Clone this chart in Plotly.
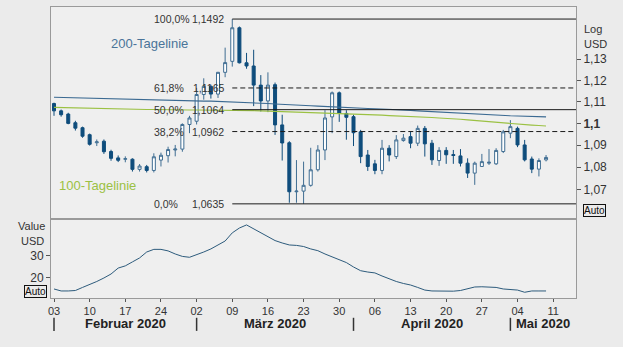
import numpy as np
import pandas as pd
import plotly.graph_objects as go

# ---------------- data ----------------
dates = pd.bdate_range("2020-02-03", "2020-05-08")

opens = [1.1092, 1.1058, 1.1043, 1.1003, 1.0980, 1.0948, 1.0911, 1.0918, 1.0871, 1.0842,
         1.0836, 1.0836, 1.0790, 1.0802, 1.0785, 1.0832, 1.0852, 1.0878, 1.0882, 1.0995,
         1.1010, 1.1134, 1.1172, 1.1136, 1.1238, 1.1290, 1.1450, 1.1283, 1.1268, 1.1178,
         1.1104, 1.1180, 1.0993, 1.0911, 1.0689, 1.0692, 1.0718, 1.0788, 1.0878, 1.1030,
         1.1142, 1.1046, 1.1031, 1.0961, 1.0855, 1.0815, 1.0785, 1.0886, 1.0848, 1.0921,
         1.0939, 1.0909, 1.0977, 1.0909, 1.0830, 1.0876, 1.0857, 1.0851, 1.0818, 1.0773,
         1.0803, 1.0818, 1.0815, 1.0871, 1.0955, 1.0977, 1.0901, 1.0837, 1.0791, 1.0833]
highs = [1.1096, 1.1064, 1.1049, 1.1012, 1.0985, 1.0953, 1.0926, 1.0926, 1.0879, 1.0853,
         1.0849, 1.0840, 1.0814, 1.0810, 1.0863, 1.0866, 1.0893, 1.0901, 1.1000, 1.1035,
         1.1165, 1.1210, 1.1180, 1.1240, 1.1355, 1.1492, 1.1456, 1.1330, 1.1345, 1.1225,
         1.1238, 1.1190, 1.1040, 1.0918, 1.0832, 1.0825, 1.0888, 1.0900, 1.1061, 1.1148,
         1.1148, 1.1061, 1.1040, 1.0970, 1.0878, 1.0833, 1.0924, 1.0900, 1.0946, 1.0951,
         1.0961, 1.0990, 1.0988, 1.0924, 1.0891, 1.0891, 1.0878, 1.0882, 1.0840, 1.0825,
         1.0860, 1.0882, 1.0886, 1.0970, 1.1015, 1.0985, 1.0924, 1.0848, 1.0840, 1.0855]
lows = [1.1035, 1.1031, 1.0996, 1.0967, 1.0934, 1.0898, 1.0896, 1.0860, 1.0829, 1.0823,
        1.0822, 1.0780, 1.0780, 1.0776, 1.0776, 1.0803, 1.0821, 1.0849, 1.0870, 1.0955,
        1.0995, 1.1110, 1.1115, 1.1118, 1.1215, 1.1265, 1.1280, 1.1255, 1.1080, 1.1055,
        1.1052, 1.0947, 1.0830, 1.0640, 1.0640, 1.0635, 1.0712, 1.0780, 1.0832, 1.0955,
        1.1007, 1.0925, 1.0896, 1.0818, 1.0783, 1.0768, 1.0768, 1.0826, 1.0837, 1.0916,
        1.0886, 1.0896, 1.0848, 1.0810, 1.0806, 1.0815, 1.0815, 1.0803, 1.0751, 1.0720,
        1.0803, 1.0810, 1.0810, 1.0864, 1.0932, 1.0891, 1.0826, 1.0773, 1.0758, 1.0826]
closes = [1.1058, 1.1040, 1.1000, 1.0978, 1.0941, 1.0904, 1.0915, 1.0870, 1.0840, 1.0831,
          1.0838, 1.0790, 1.0805, 1.0785, 1.0847, 1.0854, 1.0880, 1.0882, 1.0995, 1.1025,
          1.1134, 1.1172, 1.1136, 1.1238, 1.1284, 1.1450, 1.1283, 1.1268, 1.1178, 1.1104,
          1.1178, 1.0993, 1.0910, 1.0689, 1.0692, 1.0718, 1.0788, 1.0878, 1.1025, 1.1142,
          1.1048, 1.1028, 1.0957, 1.0848, 1.0803, 1.0785, 1.0886, 1.0855, 1.0924, 1.0932,
          1.0909, 1.0977, 1.0906, 1.0833, 1.0876, 1.0856, 1.0853, 1.0818, 1.0773, 1.0818,
          1.0825, 1.0822, 1.0876, 1.0961, 1.0985, 1.0901, 1.0833, 1.0791, 1.0830, 1.0844]

ma200 = [1.1121, 1.1120, 1.1120, 1.1119, 1.1118, 1.1117, 1.1116, 1.1116, 1.1115, 1.1114,
         1.1113, 1.1112, 1.1111, 1.1110, 1.1110, 1.1109, 1.1108, 1.1107, 1.1106, 1.1105,
         1.1104, 1.1103, 1.1103, 1.1102, 1.1101, 1.1100, 1.1099, 1.1098, 1.1096, 1.1094,
         1.1092, 1.1090, 1.1089, 1.1088, 1.1086, 1.1084, 1.1082, 1.1080, 1.1078, 1.1076,
         1.1074, 1.1072, 1.1071, 1.1070, 1.1069, 1.1068, 1.1067, 1.1065, 1.1063, 1.1062,
         1.1060, 1.1058, 1.1056, 1.1055, 1.1053, 1.1051, 1.1049, 1.1047, 1.1045, 1.1043,
         1.1041, 1.1040, 1.1038, 1.1036, 1.1035, 1.1034, 1.1033, 1.1032, 1.1031, 1.1030]
ma100 = [1.1074, 1.1073, 1.1072, 1.1071, 1.1071, 1.1070, 1.1069, 1.1068, 1.1068, 1.1067,
         1.1066, 1.1066, 1.1065, 1.1064, 1.1064, 1.1063, 1.1063, 1.1063, 1.1062, 1.1062,
         1.1062, 1.1062, 1.1061, 1.1061, 1.1061, 1.1060, 1.1060, 1.1060, 1.1059, 1.1058,
         1.1057, 1.1056, 1.1055, 1.1054, 1.1053, 1.1052, 1.1051, 1.1050, 1.1049, 1.1048,
         1.1047, 1.1046, 1.1045, 1.1043, 1.1041, 1.1039, 1.1038, 1.1036, 1.1035, 1.1034,
         1.1032, 1.1030, 1.1029, 1.1027, 1.1025, 1.1024, 1.1022, 1.1019, 1.1016, 1.1013,
         1.1011, 1.1008, 1.1005, 1.1004, 1.1000, 1.0997, 1.0994, 1.0992, 1.0990, 1.0988]

indicator = [15.0, 14.1, 14.1, 14.3, 15.7, 17.0, 18.4, 20.0, 21.8, 24.5,
             25.5, 27.3, 29.1, 31.8, 33.0, 33.0, 32.3, 30.9, 29.8, 29.4,
             30.5, 31.8, 33.2, 35.0, 36.8, 40.5, 42.7, 44.1, 42.3, 40.7,
             38.6, 37.0, 35.9, 35.0, 34.8, 34.3, 33.2, 32.4, 30.9, 29.7,
             28.4, 27.0, 25.0, 23.3, 22.7, 22.3, 20.9, 19.5, 18.4, 17.5,
             16.8, 15.7, 14.5, 14.1, 14.0, 14.0, 14.0, 14.3, 15.2, 15.9,
             16.0, 15.9, 15.7, 15.0, 14.7, 14.5, 13.5, 14.1, 14.1, 14.1]

price_ticks = [1.07, 1.08, 1.09, 1.10, 1.11, 1.12, 1.13]
price_ticktext = ["1,07", "1,08", "1,09", "<b>1,1</b>", "1,11", "1,12", "1,13"]
ind_ticks = [20, 30]
fib_ratios = [1.0, 0.618, 0.5, 0.382, 0.0]
fib_names = ["100,0%", "61,8%", "50,0%", "38,2%", "0,0%"]
fib_dash = ["solid", "dash", "solid", "dash", "solid"]
month_names = {2: "Februar", 3: "März", 4: "April", 5: "Mai"}

# ---------------- styling ----------------
DEC = "#0f4d7c"
INC = "#3f6d92"
MA200C = "#3b6a92"
MA100C = "#9bc143"
GRID = "#9a9a9a"
TXT = "#333333"
FONT = "Arial, Liberation Sans, sans-serif"

idx = list(range(len(dates)))
XMIN, XMAX = -0.42, 73.2
LOGMIN, LOGMAX = 0.02398, 0.06259
SPLIT = 0.2715

fig = go.Figure()

fig.add_trace(go.Candlestick(
    x=idx, open=opens, high=highs, low=lows, close=closes,
    increasing=dict(line=dict(color=INC, width=1), fillcolor="#ffffff"),
    decreasing=dict(line=dict(color=DEC, width=1), fillcolor=DEC),
    whiskerwidth=0, xaxis="x", yaxis="y", hoverinfo="skip", showlegend=False))

fig.add_trace(go.Scatter(x=idx, y=ma200, mode="lines", line=dict(color=MA200C, width=1.1),
                         xaxis="x", yaxis="y", showlegend=False, hoverinfo="skip"))
fig.add_trace(go.Scatter(x=idx, y=ma100, mode="lines", line=dict(color=MA100C, width=1.1),
                         xaxis="x", yaxis="y", showlegend=False, hoverinfo="skip"))

# Fibonacci retracement
hi = max(highs)
lo = min(lows)
start = highs.index(hi)
annotations = []
for r, name, dsh in zip(fib_ratios, fib_names, fib_dash):
    lvl = lo + r * (hi - lo)
    fig.add_trace(go.Scatter(x=[start, XMAX], y=[lvl, lvl], mode="lines",
                             line=dict(color="#1a1a1a", width=1, dash=dsh if dsh == "solid" else "5px,3px"),
                             xaxis="x", yaxis="y", showlegend=False, hoverinfo="skip"))
    annotations.append(dict(x=start - 11.26, y=np.log10(lvl), xref="x", yref="y",
                            text=name, showarrow=False, xanchor="left", yanchor="middle",
                            font=dict(size=10.5, color=TXT, family=FONT)))
    annotations.append(dict(x=start - 0.88, y=np.log10(lvl), xref="x", yref="y",
                            text=f"{round(lvl + 1e-9, 4):.4f}".replace(".", ","), showarrow=False,
                            xanchor="right", yanchor="middle",
                            font=dict(size=10.5, color=TXT, family=FONT)))

# last-value markers on the right edge
mx = XMAX + 0.56
fig.add_trace(go.Scatter(x=[mx, mx, mx], y=[ma200[-1], ma100[-1], closes[-1]], mode="markers",
                         marker=dict(symbol="diamond", size=7, color=[DEC, MA100C, DEC]),
                         cliponaxis=False, xaxis="x", yaxis="y", showlegend=False, hoverinfo="skip"))

# lower indicator
fig.add_trace(go.Scatter(x=idx, y=indicator, mode="lines", line=dict(color="#2d5b7c", width=1),
                         xaxis="x2", yaxis="y2", showlegend=False, hoverinfo="skip"))

# x ticks: Mondays
mondays = [i for i, d in enumerate(dates) if d.weekday() == 0]
mondays.append(len(dates))
all_days = list(dates) + [dates[-1] + pd.offsets.BDay(1)]
tick_text = [f"{all_days[i].day:02d}" for i in mondays]

# month boundaries
firsts = [0] + [i for i in range(1, len(dates)) if dates[i].month != dates[i - 1].month]
shapes = []
bounds = firsts + [XMAX]
for k, f in enumerate(firsts):
    m = dates[f]
    center = (f + bounds[k + 1]) / 2
    annotations.append(dict(x=center, y=-0.089, xref="x2", yref="paper",
                            text=f"<b>{month_names[m.month]} {m.year}</b>", showarrow=False,
                            xanchor="center", yanchor="middle",
                            font=dict(size=13, color="#222", family=FONT)))
    shapes.append(dict(type="line", xref="x2", yref="paper", x0=f, x1=f, y0=-0.068, y1=-0.113,
                       line=dict(color="#333", width=1.5)))

# labels
annotations += [
    dict(x=0.1867, y=0.8729, xref="paper", yref="paper", text="200-Tagelinie", showarrow=False,
         font=dict(size=13, color="#4a7499", family=FONT), xanchor="center", yanchor="middle"),
    dict(x=0.0886, y=0.3849, xref="paper", yref="paper", text="100-Tagelinie", showarrow=False,
         font=dict(size=13, color="#9bc143", family=FONT), xanchor="center", yanchor="middle"),
    dict(x=1.0114, y=0.9244, xref="paper", yref="paper", text="Log", showarrow=False,
         font=dict(size=11, color=TXT, family=FONT), xanchor="left", yanchor="middle"),
    dict(x=1.0114, y=0.8729, xref="paper", yref="paper", text="USD", showarrow=False,
         font=dict(size=11, color=TXT, family=FONT), xanchor="left", yanchor="middle"),
    dict(x=1.0133, y=0.3007, xref="paper", yref="paper", text="Auto", showarrow=False,
         font=dict(size=10, color="#111", family=FONT), xanchor="left", yanchor="middle",
         bordercolor="#111", borderwidth=1, borderpad=0),
    dict(x=-0.0076, y=0.0223, xref="paper", yref="paper", text="Auto", showarrow=False,
         font=dict(size=10, color="#111", family=FONT), xanchor="right", yanchor="middle",
         bordercolor="#111", borderwidth=1, borderpad=0),
    dict(x=-0.0076, y=0.2485, xref="paper", yref="paper", text="Value", showarrow=False,
         font=dict(size=11, color=TXT, family=FONT), xanchor="right", yanchor="middle"),
    dict(x=-0.0095, y=0.1969, xref="paper", yref="paper", text="USD", showarrow=False,
         font=dict(size=11, color=TXT, family=FONT), xanchor="right", yanchor="middle"),
]

fig.update_layout(
    width=623, height=347,
    margin=dict(l=51, r=47, t=7, b=49, pad=0),
    paper_bgcolor="#ebebeb", plot_bgcolor="#efefef",
    font=dict(family=FONT, size=11, color=TXT),
    showlegend=False,
    xaxis=dict(domain=[0, 1], range=[XMIN, XMAX], anchor="y", showticklabels=False,
               showline=True, mirror=True, linecolor=GRID, linewidth=1, ticks="",
               showgrid=False, zeroline=False, rangeslider=dict(visible=False), fixedrange=True),
    yaxis=dict(domain=[SPLIT, 1], type="log", range=[LOGMIN, LOGMAX], side="right",
               tickvals=price_ticks, ticktext=price_ticktext, ticks="outside", ticklen=4,
               tickcolor="#555", tickfont=dict(size=12, color=TXT, family=FONT),
               showline=True, mirror=True, linecolor=GRID, linewidth=1,
               showgrid=False, zeroline=False, anchor="x"),
    xaxis2=dict(domain=[0, 1], range=[XMIN, XMAX], anchor="y2", matches="x",
                tickvals=mondays, ticktext=tick_text, ticks="outside", ticklen=3,
                tickcolor="#555", tickfont=dict(size=11, color=TXT, family=FONT),
                showline=True, mirror=True, linecolor=GRID, linewidth=1,
                showgrid=False, zeroline=False),
    yaxis2=dict(domain=[0, SPLIT], range=[10.9, 46.8], side="left", anchor="x2",
                tickvals=ind_ticks, ticks="outside", ticklen=4, tickcolor="#555",
                tickfont=dict(size=12, color=TXT, family=FONT),
                showline=True, mirror=True, linecolor=GRID, linewidth=1,
                showgrid=False, zeroline=False),
    annotations=annotations,
    shapes=shapes,
    boxgap=0.4,
)

fig.write_html("out.html")
